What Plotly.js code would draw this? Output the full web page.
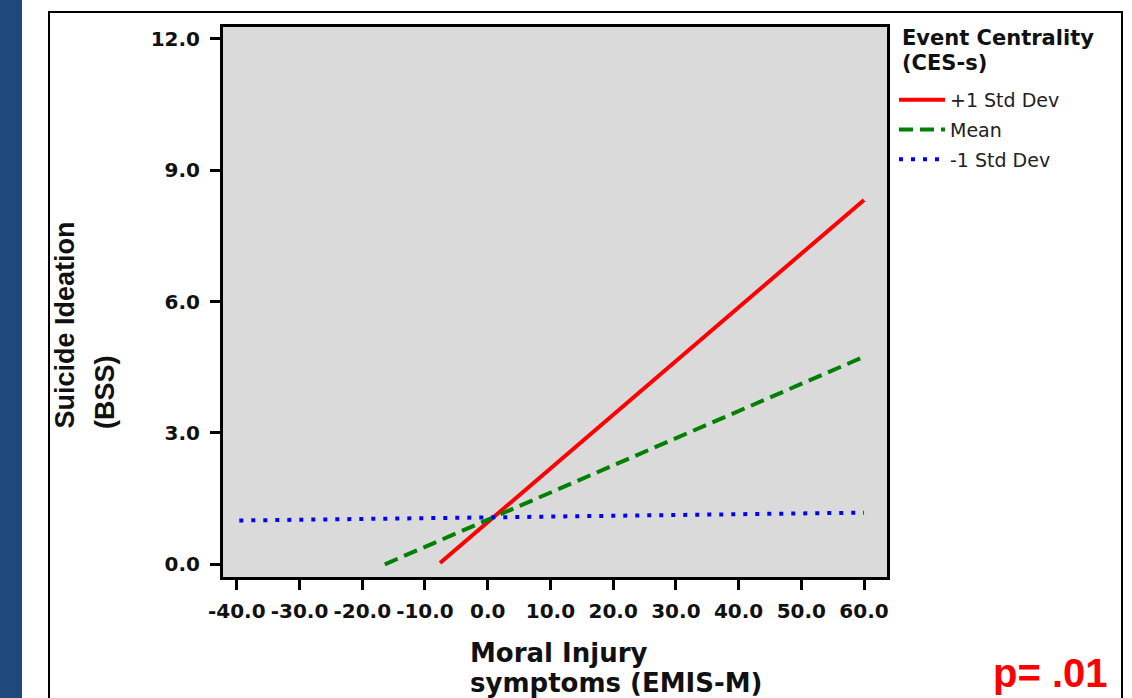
<!DOCTYPE html>
<html>
<head>
<meta charset="utf-8">
<script src="https://cdn.plot.ly/plotly-3.0.1.min.js"></script>
<style>
  html, body { margin: 0; padding: 0; background: #ffffff; }
  #wrap { position: relative; width: 1132px; height: 698px; overflow: hidden; }
  #chart { position: absolute; left: 0; top: 0; width: 1132px; height: 698px; }
  #strip { position: absolute; left: 0; top: 0; width: 22px; height: 698px; background: #1f497d; pointer-events: none; }
  #frame { position: absolute; left: 48px; top: 11px; width: 1075px; height: 720px; border: 2px solid #000; box-sizing: border-box; pointer-events: none; }
</style>
</head>
<body>
<div id="wrap">
  <div id="chart"></div>
  <div id="strip"></div>
  <div id="frame"></div>
</div>
<script>
// ---- data ----
const seriesNames = ['+1 Std Dev', 'Mean', '-1 Std Dev'];
const plusX  = [-7.6, 60.0];
const plusY  = [0.03, 8.32];
const meanX  = [-16.4, 60.0];
const meanY  = [0.0, 4.74];
const minusX = [-39.6, 60.0];
const minusY = [1.00, 1.18];

const xTickVals = [-40, -30, -20, -10, 0, 10, 20, 30, 40, 50, 60];
const xTickText = ['-40.0', '-30.0', '-20.0', '-10.0', '0.0', '10.0', '20.0', '30.0', '40.0', '50.0', '60.0'];
const yTickVals = [0, 3, 6, 9, 12];
const yTickText = ['0.0', '3.0', '6.0', '9.0', '12.0'];

const xTitleLines = ['Moral Injury', 'symptoms (EMIS-M)'];
const yTitleLines = ['Suicide Ideation', '(BSS)'];
const legendTitleLines = ['Event Centrality', '(CES-s)'];
const pText = 'p= .01';

// ---- layout helpers (pixel -> paper) ----
const L = 223, R = 887, T = 27, B = 577;
const W = 1132, H = 698;
const px = x => (x - L) / (R - L);
const py = y => (B - y) / (B - T);

const traces = [
  { x: plusX, y: plusY, name: seriesNames[0], mode: 'lines', legendgroup: 'a',
    line: { color: '#ff0000', width: 4, dash: 'solid' } },
  { x: meanX, y: meanY, name: seriesNames[1], mode: 'lines', legendgroup: 'b',
    line: { color: '#008000', width: 4, dash: '14px,7px' } },
  { x: minusX, y: minusY, name: seriesNames[2], mode: 'lines', legendgroup: 'c',
    line: { color: '#0000ff', width: 4, dash: '4px,8px' } }
];

const tickFont = { family: 'DejaVu Sans', size: 20, color: '#111', weight: 'bold' };

function txt(text, x, y, opts) {
  return Object.assign({ text: '<b>' + text + '</b>', xref: 'paper', yref: 'paper', x: px(x), y: py(y),
    xanchor: 'left', yanchor: 'middle', showarrow: false }, opts);
}

const layout = {
  width: W, height: H,
  margin: { l: L, r: W - R, t: T, b: H - B, pad: 0 },
  paper_bgcolor: '#ffffff',
  plot_bgcolor: '#dadada',
  showlegend: true,
  xaxis: {
    range: [-42.2, 63.66], autorange: false,
    tickmode: 'array', tickvals: xTickVals, ticktext: xTickText,
    ticks: 'outside', ticklen: 10, tickwidth: 3, tickcolor: '#000',
    showline: true, linewidth: 3, linecolor: '#000', mirror: true,
    showgrid: false, zeroline: false,
    tickfont: tickFont, ticklabelstandoff: 4
  },
  yaxis: {
    range: [-0.29, 12.27], autorange: false,
    tickmode: 'array', tickvals: yTickVals, ticktext: yTickText,
    ticks: 'outside', ticklen: 10, tickwidth: 3, tickcolor: '#000',
    showline: true, linewidth: 3, linecolor: '#000', mirror: true,
    showgrid: false, zeroline: false,
    tickfont: tickFont, ticklabelstandoff: 6
  },
  legend: {
    x: px(894), y: py(81), xanchor: 'left', yanchor: 'top',
    bgcolor: 'rgba(0,0,0,0)', borderwidth: 0,
    traceorder: 'grouped', tracegroupgap: 2, itemwidth: 46,
    font: { family: 'DejaVu Sans', size: 19, color: '#222' }
  },
  annotations: [
    txt(legendTitleLines[0], 900, 37.7, { font: { family: 'DejaVu Sans', size: 21, color: '#111' } }),
    txt(legendTitleLines[1], 900, 62.7, { font: { family: 'DejaVu Sans', size: 21, color: '#111' } }),
    txt(xTitleLines[0], 468, 652.9, { font: { family: 'DejaVu Sans', size: 26, color: '#111' } }),
    txt(xTitleLines[1], 468, 682.9, { font: { family: 'DejaVu Sans', size: 26, color: '#111' } }),
    txt(yTitleLines[0], 64, 431, { xanchor: 'center', yanchor: 'bottom', textangle: -90,
      font: { family: 'Liberation Sans', size: 27, color: '#111' } }),
    txt(yTitleLines[1], 105, 431, { xanchor: 'center', yanchor: 'bottom', textangle: -90,
      font: { family: 'Liberation Sans', size: 27, color: '#111' } }),
    txt(pText, 1050, 673, { xanchor: 'center', font: { family: 'Liberation Sans', size: 40, color: '#ff0000' } })
  ]
};

Plotly.newPlot('chart', traces, layout, { displayModeBar: false, staticPlot: true });
</script>
</body>
</html>
